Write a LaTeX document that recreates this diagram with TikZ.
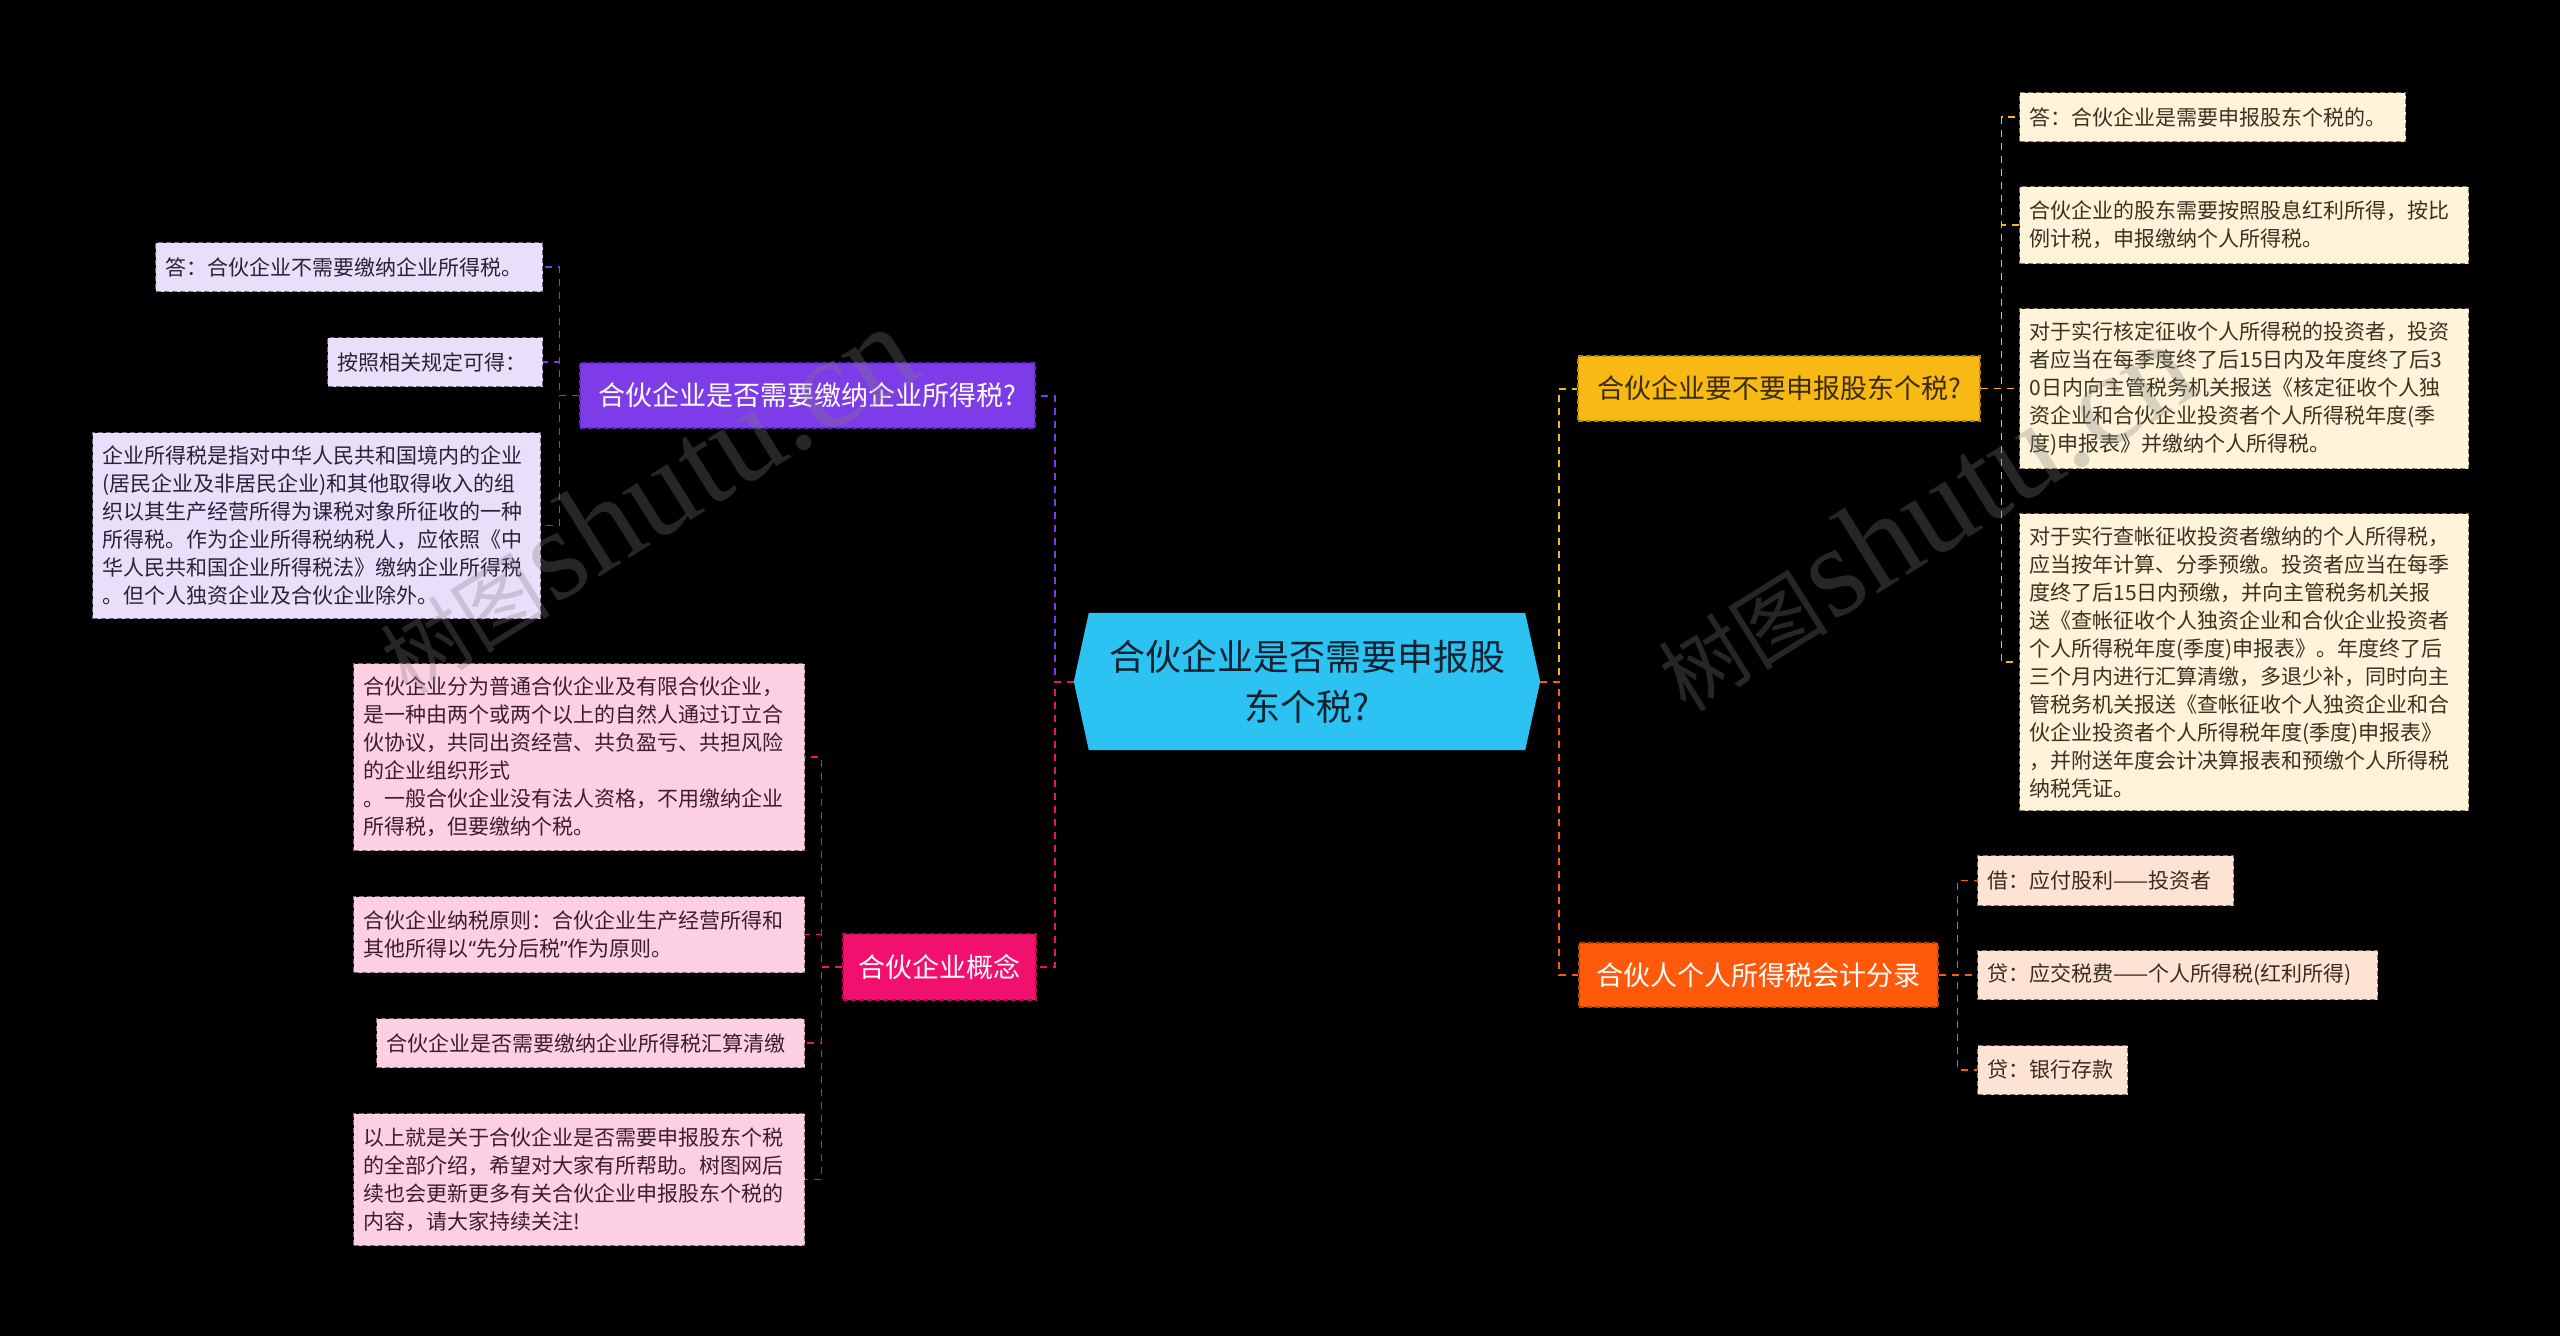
\documentclass[tikz,border=0pt]{standalone}
\usepackage{fontspec}
\setmainfont{Noto Sans CJK SC}
\newfontfamily\wmlatin{Liberation Serif}
\newfontfamily\latinq{Noto Sans}
\usetikzlibrary{backgrounds}
\definecolor{cCyan}{HTML}{2CC3F3}
\definecolor{cCenT}{HTML}{10222F}
\definecolor{cPur}{HTML}{7D3CE8}
\definecolor{cPurB}{HTML}{5E2AB8}
\definecolor{cLav}{HTML}{E9DFFB}
\definecolor{cLavB}{HTML}{6E6580}
\definecolor{cLavT}{HTML}{2A2236}
\definecolor{cPink}{HTML}{F2106E}
\definecolor{cPinkB}{HTML}{B80A52}
\definecolor{cRose}{HTML}{FDCFE2}
\definecolor{cRoseB}{HTML}{806873}
\definecolor{cRoseT}{HTML}{3A1F2A}
\definecolor{cYel}{HTML}{F9B915}
\definecolor{cYelB}{HTML}{B88500}
\definecolor{cYelT}{HTML}{3A2C05}
\definecolor{cCream}{HTML}{FFF4D9}
\definecolor{cCreamB}{HTML}{7F7760}
\definecolor{cCreamT}{HTML}{3A3222}
\definecolor{cOra}{HTML}{FF5A0B}
\definecolor{cOraB}{HTML}{C04000}
\definecolor{cPeach}{HTML}{FDE3D4}
\definecolor{cPeachB}{HTML}{807066}
\definecolor{cPeachT}{HTML}{3A2A22}
\begin{document}
\begin{tikzpicture}[x=1pt,y=-1pt,
  topic/.style={inner sep=0pt, font=\fontsize{27}{34}\selectfont, draw, dash pattern=on 5pt off 3pt, line width=1.2pt},
  leafbox/.style={inner xsep=10pt, inner ysep=0pt, align=left, font=\fontsize{21}{28}\selectfont, draw, dash pattern=on 5pt off 3pt, line width=1pt, anchor=north west},
  purleaf/.style={leafbox, fill=cLav, draw=cLavB, text=cLavT},
  pinkleaf/.style={leafbox, fill=cRose, draw=cRoseB, text=cRoseT},
  yelleaf/.style={leafbox, fill=cCream, draw=cCreamB, text=cCreamT},
  oraleaf/.style={leafbox, fill=cPeach, draw=cPeachB, text=cPeachT},
  mainconn/.style={dash pattern=on 7pt off 6pt, line width=2pt},
  leafconn/.style={dash pattern=on 7pt off 6pt, line width=1.6pt},
  watermark/.style={rotate=32, text=white!50!black, text opacity=0.3}
]
\begin{scope}[on background layer]
\fill[black] (0,0) rectangle (2560,1336);
\end{scope}
\useasboundingbox (0,0) rectangle (2560,1336);

% centre
\node[font=\fontsize{36}{50}\selectfont, align=center, text=cCenT, minimum width=466pt, minimum height=137pt, inner sep=0pt] (C) at (1307,681.5) {合伙企业是否需要申报股\\东个税?};
\begin{scope}[on background layer]
\fill[cCyan] (C.west) -- ([xshift=15pt]C.north west) -- ([xshift=-15pt]C.north east) -- (C.east) -- ([xshift=-15pt]C.south east) -- ([xshift=15pt]C.south west) -- cycle;
\end{scope}

% level 1
\node[topic, fill=cPur, draw=cPurB, text=white, minimum width=455pt, minimum height=65pt] (P) at (807.5,395.5) {合伙企业是否需要缴纳企业所得税?};
\node[topic, fill=cPink, draw=cPinkB, text=white, minimum width=193pt, minimum height=66pt] (K) at (939.5,967) {合伙企业概念};
\node[topic, fill=cYel, draw=cYelB, text=cYelT, minimum width=402pt, minimum height=65pt] (Y) at (1779,388.5) {合伙企业要不要申报股东个税?};
\node[topic, fill=cOra, draw=cOraB, text=white, minimum width=359pt, minimum height=64pt] (O) at (1758.5,975) {合伙人个人所得税会计分录};

% purple leaves
\node[purleaf, text width=367pt, minimum height=49pt] (PL1) at (155,242) {答：合伙企业不需要缴纳企业所得税。};
\node[purleaf, text width=195pt, minimum height=49pt] (PL2) at (327,337) {按照相关规定可得：};
\node[purleaf, text width=428pt, minimum height=186pt] (PL3) at (92,432) {企业所得税是指对中华人民共和国境内的企业\\(居民企业及非居民企业)和其他取得收入的组\\织以其生产经营所得为课税对象所征收的一种\\所得税。作为企业所得税纳税人，应依照《中\\华人民共和国企业所得税法》缴纳企业所得税\\。但个人独资企业及合伙企业除外。};

% pink leaves
\node[pinkleaf, text width=431pt, minimum height=187pt] (KL1) at (353,663) {合伙企业分为普通合伙企业及有限合伙企业，\\是一种由两个或两个以上的自然人通过订立合\\伙协议，共同出资经营、共负盈亏、共担风险\\的企业组织形式\\。一般合伙企业没有法人资格，不用缴纳企业\\所得税，但要缴纳个税。};
\node[pinkleaf, text width=431pt, minimum height=76pt] (KL2) at (353,896) {合伙企业纳税原则：合伙企业生产经营所得和\\其他所得以{\latinq “}先分后税{\latinq ”}作为原则。};
\node[pinkleaf, text width=408pt, minimum height=49pt] (KL3) at (376,1018) {合伙企业是否需要缴纳企业所得税汇算清缴};
\node[pinkleaf, text width=431pt, minimum height=132pt] (KL4) at (353,1113) {以上就是关于合伙企业是否需要申报股东个税\\的全部介绍，希望对大家有所帮助。树图网后\\续也会更新更多有关合伙企业申报股东个税的\\内容，请大家持续关注!};

% yellow leaves
\node[yelleaf, text width=366pt, minimum height=49pt] (YL1) at (2019,92) {答：合伙企业是需要申报股东个税的。};
\node[yelleaf, text width=429pt, minimum height=77pt] (YL2) at (2019,186) {合伙企业的股东需要按照股息红利所得，按比\\例计税，申报缴纳个人所得税。};
\node[yelleaf, text width=429pt, minimum height=160pt] (YL3) at (2019,308) {对于实行核定征收个人所得税的投资者，投资\\者应当在每季度终了后15日内及年度终了后3\\0日内向主管税务机关报送《核定征收个人独\\资企业和合伙企业投资者个人所得税年度(季\\度)申报表》并缴纳个人所得税。};
\node[yelleaf, text width=429pt, minimum height=297pt] (YL4) at (2019,513) {对于实行查帐征收投资者缴纳的个人所得税，\\应当按年计算、分季预缴。投资者应当在每季\\度终了后15日内预缴，并向主管税务机关报\\送《查帐征收个人独资企业和合伙企业投资者\\个人所得税年度(季度)申报表》。年度终了后\\三个月内进行汇算清缴，多退少补，同时向主\\管税务机关报送《查帐征收个人独资企业和合\\伙企业投资者个人所得税年度(季度)申报表》\\，并附送年度会计决算报表和预缴个人所得税\\纳税凭证。};

% orange leaves
\node[oraleaf, text width=236pt, minimum height=50pt] (OL1) at (1977,855) {借：应付股利——投资者};
\node[oraleaf, text width=380pt, minimum height=49pt] (OL2) at (1977,950) {贷：应交税费——个人所得税(红利所得)};
\node[oraleaf, text width=130pt, minimum height=49pt] (OL3) at (1977,1045) {贷：银行存款};

% centre connectors
\draw[mainconn, draw=cPur] (C.west) -- ++(-19,0) |- (P.east);
\draw[mainconn, draw=cPink] (C.west) -- ++(-19,0) |- (K.east);
\draw[mainconn, draw=cYel] (C.east) -- ++(19,0) |- (Y.west);
\draw[mainconn, draw=cOra] (C.east) -- ++(19,0) |- (O.west);

% leaf connectors
\foreach \n in {PL1,PL2,PL3} \draw[leafconn, draw=cPur] (P.west) -- ++(-20,0) |- (\n.east);
\foreach \n in {KL1,KL2,KL3,KL4} \draw[leafconn, draw=cPink] (K.west) -- ++(-21,0) |- (\n.east);
\foreach \n in {YL1,YL2,YL3,YL4} \draw[leafconn, draw=cYel] (Y.east) -- ++(21,0) |- (\n.west);
\foreach \n in {OL1,OL2,OL3} \draw[leafconn, draw=cOra] (O.east) -- ++(19,0) |- (\n.west);

% watermarks
\node[watermark] (wm1) at (645,500) {{\fontsize{85}{85}\selectfont 树图} {\wmlatin\fontsize{130}{130}\selectfont shutu.cn}};
\node[watermark] (wm2) at (1923,517) {{\fontsize{85}{85}\selectfont 树图} {\wmlatin\fontsize{130}{130}\selectfont shutu.cn}};
\end{tikzpicture}
\end{document}
